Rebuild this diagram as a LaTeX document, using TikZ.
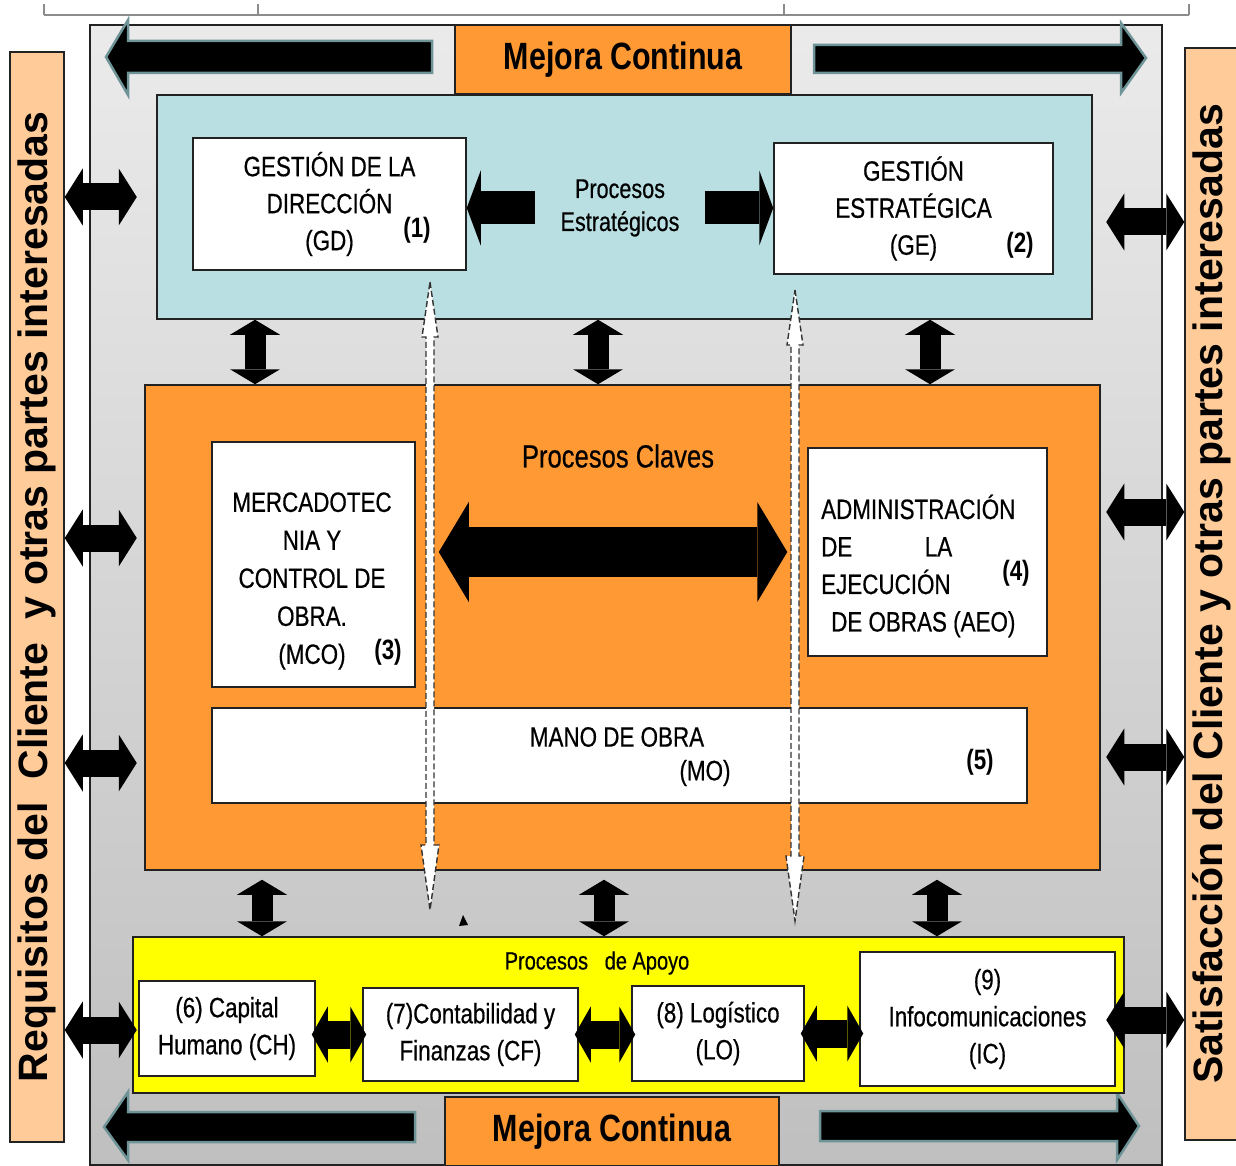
\documentclass[tikz,border=0pt]{standalone}
\usepackage{fontspec}
\setmainfont{Liberation Sans}[FakeStretch=0.8, UprightFeatures={FakeBold=0.5}]
\newfontfamily\sidefont{Liberation Sans}
\usetikzlibrary{arrows.meta,calc}
\definecolor{mejoraorange}{HTML}{FF9933}
\definecolor{sidepeach}{HTML}{FFCC99}
\definecolor{estrateal}{HTML}{B9DFE2}
\definecolor{apoyoyellow}{HTML}{FFFF00}
\definecolor{arrowglow}{HTML}{6F9498}
\definecolor{edgegray}{HTML}{222222}

\begin{document}
\begin{tikzpicture}[x=1pt,y=-1pt,font=\fontsize{28}{37}\selectfont,
  sidetip/.tip={Triangle[length=18pt,width=57pt,line width=0pt]},
  vtip/.tip={Triangle[length=15pt,width=50pt,line width=0pt]},
  keytip/.tip={Triangle[length=30pt,width=100pt,line width=0pt]},
  esttip/.tip={Triangle[length=14pt,width=75pt,line width=0pt]},
  apotip/.tip={Triangle[length=16pt,width=56pt,line width=0pt]}]
  \tikzstyle{box}=[draw=edgegray, line width=1.5pt, inner sep=0pt, align=center]
  \tikzstyle{proc}=[box, fill=white]
  \tikzstyle{num}=[font=\bfseries\fontsize{28}{37}\selectfont, inner sep=0pt]
  \tikzstyle{txt}=[inner sep=0pt, align=center]
  \tikzstyle{side}=[box, fill=sidepeach, rotate=90, font=\sidefont\bfseries\fontsize{41}{41}\selectfont]
  \tikzstyle{mejora}=[box, fill=mejoraorange, font=\bfseries\fontsize{38}{38}\selectfont]
  \tikzstyle{mejarrow}=[fill=black, draw=arrowglow, line width=2.5pt, line join=miter]
  \tikzstyle{sidearrow}=[line width=27pt, sidetip-sidetip]
  \tikzstyle{varrow}=[line width=21pt, vtip-vtip]
  \tikzstyle{keyarrow}=[line width=50pt, keytip-keytip]
  \tikzstyle{estarrow}=[line width=33pt, -esttip]
  \tikzstyle{apoarrow}=[line width=28pt, apotip-apotip, shorten <=-4pt, shorten >=-4pt]
  \tikzstyle{dasharrow}=[draw=black!80, fill=white, line width=1.4pt, dash pattern=on 6pt off 3pt]

  \useasboundingbox (0,0) rectangle (1236,1166);

  % top bracket
  \draw[black!45, line width=2.5pt] (44,15) -- (1189,15);
  \foreach \x in {44,258,784,1189}
    \draw[black!45, line width=1.5pt] (\x,4) -- (\x,15);

  % side bars
  \node[side, minimum width=1090pt, minimum height=54pt] (req) at (37,597)
    {Requisitos del\ \ Cliente\ \ y otras partes interesadas};
  \node[side, minimum width=1092pt, minimum height=54pt] (sat) at (1212,594)
    {Satisfacción del Cliente y otras partes interesadas};

  % outer frame
  \node[draw=edgegray, line width=1.2pt, top color=black!8, bottom color=black!25,
    minimum width=1072pt, minimum height=1140pt, inner sep=0pt] (frame) at (626,595) {};

  % mejora continua
  \node[mejora, minimum width=336pt, minimum height=69pt] (mejtop) at (623,59.5) {Mejora Continua};
  \node[mejora, minimum width=334pt, minimum height=69pt] (mejbot) at (612,1131.5) {Mejora Continua};
  \path[mejarrow] (432,41) -- (128,41) -- (128,20) -- (106,57) -- (128,95) -- (128,73) -- (432,73) -- cycle;
  \path[mejarrow] (814,45) -- (1121,45) -- (1121,23) -- (1146,58) -- (1121,93) -- (1121,73) -- (814,73) -- cycle;
  \path[mejarrow] (415,1112) -- (128,1112) -- (128,1092) -- (104,1127) -- (128,1160) -- (128,1142) -- (415,1142) -- cycle;
  \path[mejarrow] (820,1111) -- (1117,1111) -- (1117,1093) -- (1139,1126) -- (1117,1160) -- (1117,1141) -- (820,1141) -- cycle;

  % procesos estrategicos
  \node[box, fill=estrateal, minimum width=935pt, minimum height=224pt] (estr) at (624.5,207) {};
  \node[proc, minimum width=273pt, minimum height=132pt] (gd) at (329.5,204) {GESTIÓN DE LA\\DIRECCIÓN\\(GD)};
  \node[num] (n1) at (417,230) {(1)};
  \node[proc, minimum width=279pt, minimum height=131pt] (ge) at (913.5,208.5) {GESTIÓN\\ESTRATÉGICA\\(GE)};
  \node[num] (n2) at (1020,245) {(2)};
  \node[txt, inner xsep=25pt, font=\fontsize{27}{33}\selectfont] (procest) at (620,208) {Procesos\\Estratégicos};

  % procesos claves
  \node[box, fill=mejoraorange, minimum width=955pt, minimum height=485pt] (clave) at (622.5,627.5) {};
  \node[txt, font=\fontsize{32}{32}\selectfont] (clavetit) at (618,456) {Procesos Claves};
  \node[proc, minimum width=203pt, minimum height=245pt] (mco) at (313.5,564.5) {};
  \node[txt, font=\fontsize{28}{38}\selectfont] (mcotxt) at (312,581) {MERCADOTEC\\NIA Y\\CONTROL DE\\OBRA.\\(MCO)};
  \node[num] (n3) at (388,652) {(3)};
  \node[proc, minimum width=239pt, minimum height=208pt] (aeo) at (927.5,552) {};
  \node[txt, align=left, anchor=west, font=\fontsize{28}{37.5}\selectfont] (aeotxt) at (821,566)
    {ADMINISTRACIÓN\\\hbox to 131pt{DE\hfill LA}\\EJECUCIÓN\\\hspace*{10pt}DE OBRAS (AEO)};
  \node[num] (n4) at (1016,573) {(4)};
  \node[proc, minimum width=815pt, minimum height=95pt] (mo) at (619.5,755.5) {};
  \node[txt] (motxt) at (617,737) {MANO DE OBRA};
  \node[txt] (mosig) at (705,773) {(MO)};
  \node[num] (n5) at (980,762) {(5)};

  % procesos de apoyo
  \node[box, fill=apoyoyellow, minimum width=991pt, minimum height=156pt] (apoyo) at (628.5,1015) {};
  \node[txt, font=\fontsize{25}{25}\selectfont] (apotit) at (597,963) {Procesos\ \ \ de Apoyo};
  \node[proc, minimum width=176pt, minimum height=95pt] (ch) at (227,1028.5) {(6) Capital\\Humano (CH)};
  \node[proc, minimum width=215pt, minimum height=93pt] (cf) at (470.5,1034.5) {(7)Contabilidad y\\Finanzas (CF)};
  \node[proc, minimum width=172pt, minimum height=95pt] (lo) at (718,1033.5) {(8) Logístico\\(LO)};
  \node[proc, minimum width=255pt, minimum height=134pt] (ic) at (987.5,1019) {(9)\\Infocomunicaciones\\(IC)};

  % connectors
  \foreach \y in {197,538,763,1030}
    \draw[sidearrow] (req.south |- 0,\y) -- ++(72,0);
  \foreach \y in {222,512,757,1020}
    \draw[sidearrow] (sat.north |- 0,\y) -- ++(-78,0);
  \draw[estarrow] (procest.west) -- (procest.west -| gd.east);
  \draw[estarrow] (procest.east) -- (procest.east -| ge.west);
  \foreach \x in {255,598,930}
    \draw[varrow] (estr.south -| \x,0) -- (clave.north -| \x,0);
  \foreach \x in {262,604,937}
    \draw[varrow, shorten <=9pt] (clave.south -| \x,0) -- (apoyo.north -| \x,0);
  \draw[keyarrow] ($(mco.east |- aeo.west)+(23,0)$) -- ($(aeo.west)+(-20,0)$);
  \draw[apoarrow] (cf.west -| ch.east) -- (cf.west);
  \draw[apoarrow] (cf.east) -- (cf.east -| lo.west);
  \draw[apoarrow] (lo.east) -- (lo.east -| ic.west);

  % dashed links
  \foreach \x/\t/\b in {430/282/910,795/290/921}
    \path[dasharrow] (\x,\t) -- (\x+8,\t+55) -- (\x+4,\t+55) -- (\x+4,\b-65) -- (\x+9,\b-65)
      -- (\x,\b) -- (\x-9,\b-65) -- (\x-4,\b-65) -- (\x-4,\t+55) -- (\x-8,\t+55) -- cycle;
  \fill (459,926) -- (463,915) -- (468,925) -- cycle;
\end{tikzpicture}
\end{document}
